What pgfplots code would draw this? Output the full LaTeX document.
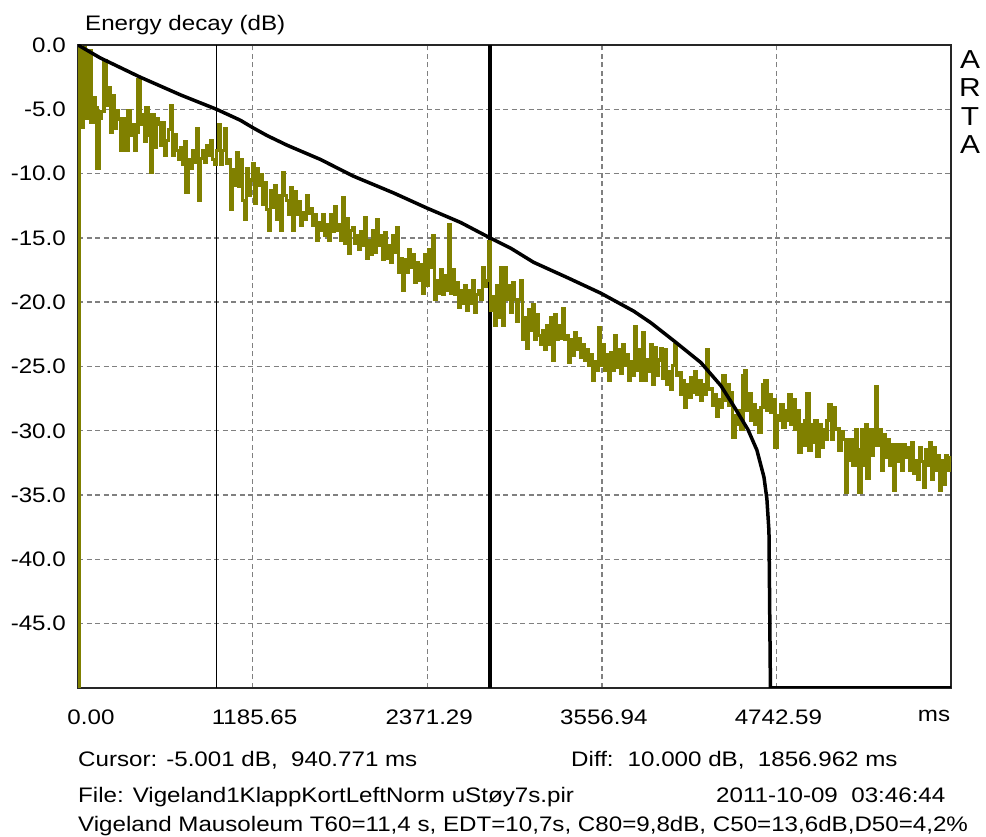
\documentclass[border=0pt]{standalone}
\usepackage{fontspec}
\setmainfont{Liberation Sans}[FakeStretch=1.15]
\usepackage{pgfplots}
\pgfplotsset{compat=1.18}
\definecolor{decay}{HTML}{808000}
\definecolor{gridgray}{HTML}{808080}

\begin{document}
\fontsize{21bp}{25bp}\selectfont
\begin{tikzpicture}[x=1bp,y=1bp]
\path[use as bounding box] (0,0) rectangle (986,837);
\begin{axis}[
  at={(78bp,149bp)}, anchor=south west,
  width=873bp, height=643bp, scale only axis,
  xmin=0, xmax=5928.24, ymin=-50, ymax=0,
  xtick={0,1185.648,2371.296,3556.944,4742.592,5928.24},
  xticklabels={\hspace*{22bp}0.00,1185.65,2371.29,3556.94,4742.59,ms\hspace*{38bp}},
  ytick={-45,-40,-35,-30,-25,-20,-15,-10,-5,0},
  yticklabels={-45.0,-40.0,-35.0,-30.0,-25.0,-20.0,-15.0,-10.0,-5.0,0.0},
  xticklabel style={inner sep=0pt, anchor=north, yshift=-22bp, xshift=2bp},
  yticklabel style={inner sep=0pt, anchor=east, xshift=-12bp},
  major tick length=0pt,
  grid=major,
  major grid style={gridgray, dash pattern=on 5bp off 3.5bp, line width=1.4bp},
  axis line style={black!85, line width=1.6bp},
]
% cursor markers
\addplot[black, line width=1.5bp] coordinates {(940.771,-50) (940.771,0)};
\addplot[black, line width=3.5bp] coordinates {(2797.733,-50) (2797.733,0)};

% energy decay of the impulse response
\addplot[decay, line width=3.2bp, const plot] table {
ms dB
0 -50
7 -0.1
20 -0.4
27 -6.4
34 -0.2
48 -4.3
61 -5.7
75 -0.4
88 -6.0
102 -4.1
116 -4.9
129 -9.6
143 -5.7
156 -5.2
177 -1.2
190 -4.7
204 -3.3
218 -6.8
231 -3.9
245 -6.5
258 -5.1
272 -5.8
286 -8.2
299 -5.7
313 -7.4
326 -8.2
340 -5.1
354 -7.0
367 -6.2
381 -8.2
394 -6.8
408 -2.7
422 -6.2
435 -5.4
449 -7.5
462 -4.9
476 -7.0
490 -9.9
503 -5.4
517 -8.0
530 -5.7
544 -6.2
558 -7.8
571 -6.0
585 -8.6
598 -7.4
612 -6.6
626 -4.7
639 -8.6
653 -7.0
666 -8.2
680 -8.9
694 -8.0
707 -9.3
721 -7.5
734 -11.5
748 -8.9
762 -9.6
775 -8.2
789 -9.1
802 -6.5
816 -12.1
830 -8.8
844 -8.2
857 -9.1
870 -7.8
884 -8.6
898 -7.4
911 -8.9
925 -9.3
938 -8.2
952 -6.2
966 -9.3
979 -8.2
993 -6.5
1006 -9.2
1020 -8.9
1034 -12.8
1047 -9.7
1061 -10.9
1074 -8.4
1088 -11.0
1102 -8.9
1115 -12.1
1129 -13.6
1142 -9.6
1156 -11.7
1170 -10.5
1183 -9.2
1197 -12.3
1210 -9.6
1224 -10.9
1238 -10.1
1251 -12.4
1265 -10.7
1278 -12.8
1292 -14.4
1306 -11.3
1319 -12.6
1333 -10.9
1346 -13.6
1360 -11.7
1374 -14.4
1387 -9.9
1401 -11.7
1414 -12.1
1428 -13.2
1442 -11.1
1455 -14.4
1469 -11.4
1482 -13.2
1496 -12.2
1510 -14.0
1523 -13.0
1537 -13.6
1550 -11.7
1564 -13.1
1578 -12.7
1591 -14.0
1605 -13.2
1618 -15.2
1632 -13.8
1646 -14.4
1659 -13.2
1673 -14.8
1686 -14.0
1700 -15.2
1714 -13.2
1727 -14.5
1741 -12.6
1754 -14.4
1768 -14.0
1782 -15.2
1795 -11.9
1809 -15.4
1822 -13.5
1836 -16.2
1850 -14.4
1863 -14.2
1877 -15.4
1890 -14.8
1904 -15.9
1918 -14.5
1931 -15.6
1945 -13.4
1958 -16.6
1972 -15.2
1986 -16.3
1999 -14.4
2013 -16.1
2026 -13.6
2040 -15.6
2054 -14.8
2067 -16.7
2081 -14.6
2094 -16.6
2108 -15.6
2122 -16.9
2135 -14.8
2149 -16.1
2162 -14.2
2176 -17.7
2190 -16.6
2203 -19.1
2217 -16.7
2230 -17.7
2244 -15.9
2258 -17.3
2271 -16.3
2285 -18.5
2298 -16.9
2312 -18.3
2326 -17.1
2339 -19.3
2353 -16.3
2366 -18.7
2380 -15.9
2394 -17.3
2407 -14.8
2421 -19.8
2434 -18.3
2448 -19.3
2462 -17.5
2475 -19.4
2489 -17.9
2502 -19.1
2516 -14.0
2530 -19.3
2543 -17.5
2557 -19.4
2570 -18.5
2584 -20.4
2598 -19.1
2611 -20.1
2625 -18.7
2638 -20.6
2652 -19.1
2666 -20.1
2679 -18.3
2693 -20.8
2706 -19.4
2720 -19.1
2734 -19.8
2747 -17.3
2761 -18.8
2774 -18.3
2788 -15.3
2802 -20.6
2815 -19.6
2829 -21.8
2842 -18.7
2856 -21.2
2870 -17.3
2883 -21.8
2897 -17.3
2910 -19.8
2924 -18.7
2938 -20.8
2951 -18.5
2965 -19.8
2978 -21.5
2992 -19.8
3006 -18.3
3019 -22.9
3033 -21.2
3046 -23.6
3060 -20.6
3074 -22.2
3087 -20.2
3101 -22.9
3114 -21.0
3128 -22.6
3142 -23.3
3155 -22.2
3169 -23.7
3182 -21.8
3196 -23.3
3210 -21.2
3223 -24.5
3237 -21.0
3250 -22.9
3264 -21.8
3278 -22.8
3291 -20.5
3305 -22.9
3318 -22.6
3332 -24.7
3346 -22.9
3359 -24.1
3373 -22.4
3386 -23.7
3400 -22.8
3414 -24.3
3427 -23.3
3441 -24.5
3454 -23.7
3468 -24.9
3482 -24.1
3495 -26.1
3509 -24.6
3522 -25.3
3536 -22.0
3550 -24.9
3563 -23.3
3577 -25.3
3590 -24.1
3604 -26.1
3618 -23.9
3631 -25.3
3645 -22.6
3658 -25.1
3672 -23.7
3686 -25.5
3699 -23.3
3713 -24.9
3726 -24.1
3740 -26.1
3754 -24.6
3767 -25.7
3781 -21.9
3794 -25.3
3808 -23.7
3822 -26.1
3835 -22.4
3849 -26.1
3862 -24.5
3876 -25.4
3890 -23.3
3903 -26.4
3917 -23.5
3930 -25.7
3944 -24.5
3958 -23.6
3971 -25.9
3985 -23.7
3998 -26.4
4012 -25.4
4026 -26.8
4039 -24.9
4053 -23.3
4066 -25.7
4080 -25.5
4094 -27.2
4107 -26.1
4121 -28.2
4134 -26.4
4148 -27.4
4162 -25.9
4175 -27.0
4189 -25.4
4202 -27.2
4216 -26.1
4230 -27.6
4243 -26.4
4257 -27.2
4270 -23.7
4284 -26.8
4298 -26.7
4311 -28.0
4325 -27.2
4338 -28.9
4352 -27.6
4366 -28.2
4379 -25.7
4393 -27.6
4406 -26.4
4420 -28.0
4434 -27.0
4447 -30.5
4461 -28.8
4474 -29.5
4488 -28.4
4502 -29.9
4515 -25.7
4529 -25.3
4542 -28.4
4556 -27.1
4570 -29.2
4583 -28.0
4597 -29.5
4610 -28.4
4624 -30.1
4638 -28.2
4651 -26.4
4665 -26.1
4678 -28.4
4692 -27.2
4706 -28.6
4719 -27.6
4733 -31.3
4746 -28.8
4760 -29.2
4774 -28.0
4787 -29.7
4801 -28.4
4814 -29.2
4828 -27.2
4842 -29.5
4855 -27.6
4869 -29.9
4882 -28.4
4896 -31.7
4910 -29.5
4923 -31.1
4937 -29.2
4950 -27.1
4964 -31.5
4978 -29.5
4991 -30.9
5005 -29.2
5018 -32.0
5032 -29.5
5046 -31.3
5059 -29.9
5073 -30.7
5086 -29.2
5100 -28.0
5114 -30.7
5127 -28.2
5141 -29.9
5154 -29.8
5168 -31.5
5182 -30.1
5195 -30.7
5209 -34.8
5222 -30.7
5236 -32.3
5250 -30.7
5263 -32.7
5277 -29.9
5290 -31.5
5304 -34.8
5318 -29.9
5331 -32.7
5345 -29.5
5358 -33.7
5372 -29.9
5386 -31.9
5399 -29.9
5413 -26.6
5426 -31.1
5440 -29.9
5454 -33.1
5467 -30.3
5481 -32.1
5494 -30.7
5508 -32.7
5522 -31.1
5535 -34.6
5549 -31.1
5562 -32.4
5576 -31.1
5590 -33.1
5603 -31.1
5617 -32.1
5630 -31.3
5644 -33.1
5658 -30.9
5671 -33.3
5685 -32.3
5698 -33.8
5712 -31.3
5726 -32.4
5739 -34.4
5753 -31.5
5766 -32.7
5780 -30.9
5794 -33.8
5807 -31.3
5821 -33.1
5834 -31.9
5848 -34.6
5862 -32.3
5875 -34.2
5889 -31.9
5902 -33.1
5916 -32.1
5928 -32.4
};

% backward-integrated (Schroeder) decay curve
\addplot[black, line width=3.5bp, line join=round] table {
ms dB
0 0
150 -1.0
422 -2.5
700 -3.9
940.771 -5.0
1102 -5.85
1190 -6.45
1285 -7.05
1421 -7.8
1646 -8.9
1870 -10.2
2142 -11.5
2373 -12.7
2598 -13.8
2797.733 -15.0
2938 -15.8
3094 -16.9
3325 -18.1
3550 -19.3
3774 -20.7
3890 -21.6
4046 -23.0
4230 -24.7
4366 -26.5
4454 -28.1
4549 -29.9
4610 -31.5
4658 -33.6
4678 -35.3
4692 -37.8
4702 -50
5928.24 -50
};
\end{axis}

% header, side mark and info lines
\node[anchor=base west, inner sep=0pt] at (85,806) {Energy decay (dB)};
\begin{scope}[every node/.style={inner sep=0pt, font=\fontsize{26bp}{28bp}\selectfont}]
\node at (970,777) {A};
\node at (970,749) {R};
\node at (970,720) {T};
\node at (970,692) {A};
\end{scope}
\node[anchor=base west, inner sep=0pt] at (78,70) {Cursor: -5.001 dB,\ \ 940.771 ms};
\node[anchor=base west, inner sep=0pt] at (571,70) {Diff:\hspace{14bp}10.000 dB,\ \ 1856.962 ms};
\node[anchor=base west, inner sep=0pt] at (78,34) {File: Vigeland1KlappKortLeftNorm uStøy7s.pir};
\node[anchor=base west, inner sep=0pt] at (716,34) {2011-10-09\ \ 03:46:44};
\node[anchor=base west, inner sep=0pt] at (78,5) {Vigeland Mausoleum T60=11,4 s, EDT=10,7s, C80=9,8dB, C50=13,6dB,D50=4,2\%};
\end{tikzpicture}
\end{document}
